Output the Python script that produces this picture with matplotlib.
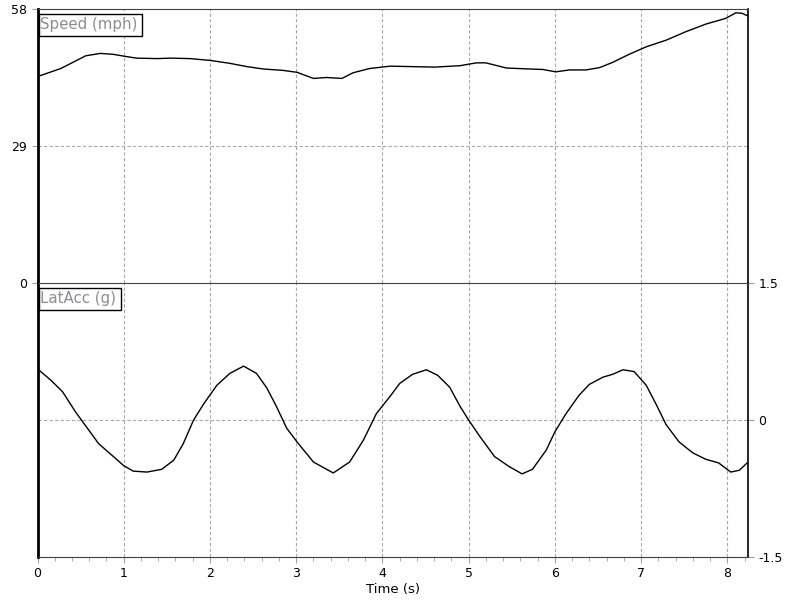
import matplotlib.pyplot as plt
from matplotlib.patches import Rectangle
import numpy as np

# Speed (mph) trace
speed_t = [0.00, 0.27, 0.42, 0.56, 0.73, 0.88, 1.04, 1.15, 1.39, 1.54, 1.77, 2.01, 2.23, 2.43,
           2.62, 2.85, 3.01, 3.20, 3.35, 3.53, 3.66, 3.85, 4.09, 4.61, 4.90, 5.09, 5.20, 5.44,
           5.71, 5.86, 6.01, 6.17, 6.36, 6.52, 6.67, 6.86, 7.06, 7.29, 7.52, 7.75, 7.98, 8.10,
           8.17, 8.23]
speed = [43.7, 45.4, 46.8, 48.1, 48.6, 48.4, 47.9, 47.6, 47.5, 47.6, 47.5, 47.1, 46.5, 45.8,
         45.3, 45.0, 44.6, 43.3, 43.5, 43.3, 44.5, 45.4, 45.9, 45.7, 46.0, 46.6, 46.6, 45.5,
         45.3, 45.2, 44.7, 45.1, 45.1, 45.6, 46.7, 48.4, 50.0, 51.4, 53.2, 54.8, 56.0, 57.2,
         57.1, 56.6]

# LatAcc (g) trace
lat_t = [0.00, 0.15, 0.29, 0.44, 0.54, 0.71, 0.88, 1.00, 1.11, 1.27, 1.44, 1.58, 1.69, 1.81,
         1.93, 2.08, 2.23, 2.39, 2.54, 2.66, 2.77, 2.89, 3.01, 3.20, 3.43, 3.62, 3.78, 3.93,
         4.09, 4.20, 4.35, 4.51, 4.64, 4.78, 4.90, 5.00, 5.13, 5.30, 5.47, 5.62, 5.74, 5.90,
         6.00, 6.13, 6.28, 6.40, 6.56, 6.67, 6.79, 6.92, 7.06, 7.17, 7.29, 7.44, 7.60, 7.75,
         7.90, 8.04, 8.14, 8.23]
lat = [0.56, 0.44, 0.31, 0.09, -0.04, -0.26, -0.40, -0.50, -0.56, -0.57, -0.54, -0.44, -0.26,
       0.00, 0.18, 0.38, 0.51, 0.59, 0.51, 0.35, 0.15, -0.09, -0.24, -0.46, -0.58, -0.46,
       -0.22, 0.07, 0.26, 0.40, 0.50, 0.55, 0.49, 0.36, 0.15, 0.00, -0.18, -0.40, -0.51,
       -0.59, -0.54, -0.33, -0.13, 0.07, 0.27, 0.39, 0.47, 0.50, 0.55, 0.53, 0.38, 0.18,
       -0.05, -0.24, -0.36, -0.43, -0.47, -0.57, -0.55, -0.47]

x_ticks = [0, 1, 2, 3, 4, 5, 6, 7, 8]
x_max = 8.24

W, H = 793, 606
fig = plt.figure(figsize=(W / 100, H / 100), dpi=100)
left, right = 37.5 / W, 748 / W
top, mid, bot = 1 - 9 / H, 1 - 283 / H, 1 - 557 / H
ax1 = fig.add_axes([left, mid, right - left, top - mid])
ax2 = fig.add_axes([left, bot, right - left, mid - bot], sharex=ax1)

grid_kw = dict(color='#a8a8a8', linestyle=(0, (3, 2)), linewidth=0.8)
tick_col = '#a0a0a0'
dark = '#404040'

# top panel
ax1.plot(speed_t, speed, color='black', linewidth=1)
ax1.set_ylim(0, 58)
ax1.set_yticks([0, 29, 58])
ax1.set_xlim(0, x_max)
ax1.set_xticks(x_ticks)
ax1.tick_params(axis='x', bottom=False, labelbottom=False, which='both')
ax1.tick_params(axis='y', colors=tick_col, labelcolor='black', labelsize=9, length=4)
ax1.grid(True, axis='x', **grid_kw)
ax1.axhline(29, zorder=0.5, **grid_kw)
ax1.spines['left'].set_linewidth(2)
ax1.spines['left'].set_color('black')
ax1.spines['right'].set_linewidth(1.2)
ax1.spines['right'].set_color('black')
ax1.spines['top'].set_color(dark)
ax1.spines['bottom'].set_visible(False)

# bottom panel
ax2.plot(lat_t, lat, color='black', linewidth=1)
ax2.set_ylim(-1.5, 1.5)
ax2.set_yticks([-1.5, 0, 1.5])
ax2.set_yticklabels(['-1.5', '0', '1.5'])
ax2.yaxis.tick_right()
ax2.tick_params(axis='y', colors=tick_col, labelcolor='black', labelsize=9, length=4)
ax2.set_xticks(x_ticks)
ax2.set_xticks(np.arange(0, 8.21, 0.2), minor=True)
ax2.tick_params(axis='x', which='major', colors=tick_col, labelcolor='black', labelsize=9, length=4)
ax2.tick_params(axis='x', which='minor', colors=tick_col, length=3)
ax2.grid(True, axis='x', **grid_kw)
ax2.axhline(0, zorder=0.5, **grid_kw)
ax2.spines['left'].set_linewidth(2)
ax2.spines['left'].set_color('black')
ax2.spines['right'].set_linewidth(1.2)
ax2.spines['right'].set_color('black')
ax2.spines['top'].set_color(dark)
ax2.spines['bottom'].set_color(dark)
ax2.set_xlabel('Time (s)', fontsize=9.5, labelpad=2)

# channel name boxes (pixel positions)
for name, x0, y0, x1, y1 in [('Speed (mph)', 38.5, 14, 142, 36), ('LatAcc (g)', 38.5, 288, 121, 310)]:
    fig.patches.append(Rectangle((x0 / W, 1 - y1 / H), (x1 - x0) / W, (y1 - y0) / H,
                                 transform=fig.transFigure, facecolor='white',
                                 edgecolor='black', linewidth=1, zorder=5))
    fig.text((x0 + 2) / W, 1 - (y0 + y1) / 2 / H, name, ha='left', va='center',
             fontsize=10.8, color='#8c8c94', zorder=6)

fig.savefig('out.png', dpi=100)
